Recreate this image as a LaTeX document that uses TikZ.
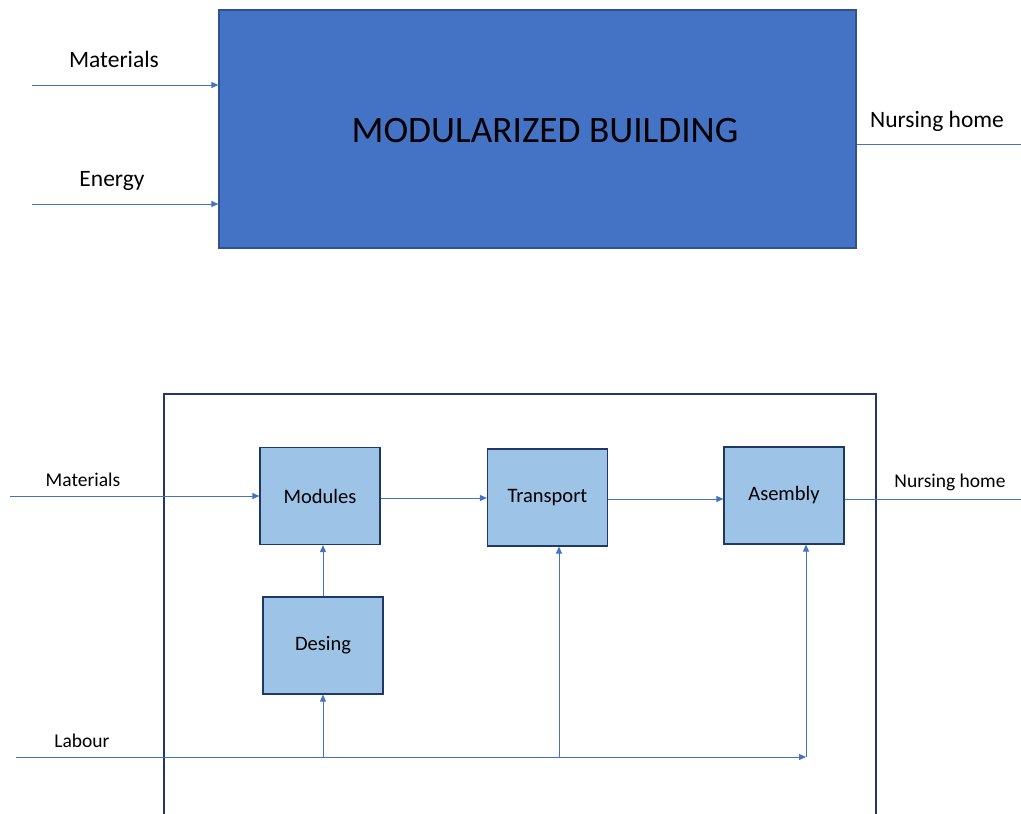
\documentclass[tikz,border=0pt]{standalone}
\usepackage{fontspec}
\setmainfont{Carlito}
\usetikzlibrary{arrows.meta}
\definecolor{accent}{HTML}{4472C4}
\definecolor{navy}{HTML}{2F528F}
\definecolor{darknavy}{HTML}{1F3864}
\definecolor{lightblue}{HTML}{9DC3E6}
\begin{document}
\begin{tikzpicture}[x=1pt,y=-1pt,
  flow/.style={draw=accent,line width=0.9pt,-{Triangle[length=7pt,width=6pt]}},
  plain/.style={draw=accent,line width=0.9pt},
  stage/.style={draw=darknavy,line width=1.2pt,fill=lightblue,minimum width=120pt,minimum height=97pt,inner sep=0pt,font=\fontsize{20.5}{22}\selectfont},
  biglabel/.style={font=\fontsize{23.5}{26}\selectfont,inner sep=0pt},
  smalllabel/.style={font=\fontsize{19.5}{22}\selectfont,inner sep=0pt}]
\useasboundingbox (0,0) rectangle (1021,814);

% --- overview: the building as one black box ---
\node[draw=navy,line width=1.2pt,fill=accent,minimum width=637pt,minimum height=238pt,inner sep=0pt] (bldg) at (537.5,129) {};
\node[font=\fontsize{37.3}{40}\selectfont,inner sep=0pt] (bldgTxt) at (545,131) {MODULARIZED BUILDING};
\coordinate (matIn) at (32,85);
\coordinate (enIn) at (32,204);
\coordinate (nhOut) at (1021,144);
\draw[flow] (matIn) -- (bldg.west |- matIn);
\draw[flow] (enIn) -- (bldg.west |- enIn);
\draw[plain] (bldg.east |- nhOut) -- (nhOut);
\node[biglabel] (matLbl) at (114,59) {Materials};
\node[biglabel] (enLbl) at (112,181) {Energy};
\node[biglabel] (nhLbl) at (937,121) {Nursing home};

% --- detailed process ---
\draw[darknavy,line width=1.2pt] (164,814) -- (164,394) -- (876,394) -- (876,814);
\node[stage] (modules) at (320,496) {Modules};
\node[stage] (transport) at (547.5,497.5) {Transport};
\node[stage] (asembly) at (784,495.5) {Asembly};
\node[stage] (desing) at (323,645.5) {Desing};

\coordinate (mat2In) at (10,496);
\coordinate (nh2Out) at (1021,499);
\coordinate (labIn) at (16,757);
\coordinate (labEnd) at (806,757);
\coordinate (labD) at (323,757);
\coordinate (labT) at (559,757);

\draw[flow] (mat2In) -- (modules.west |- mat2In);
\draw[flow] (modules.east |- 0,498) -- (transport.west |- 0,498);
\draw[flow] (transport.east |- 0,499) -- (asembly.west |- 0,499);
\draw[plain] (asembly.east |- nh2Out) -- (nh2Out);
\draw[flow] (desing.north -| labD) -- (modules.south -| labD);
\draw[flow] (labIn) -- (labEnd);
\draw[flow] (labEnd) -- (asembly.south -| labEnd);
\draw[flow] (labD) -- (desing.south -| labD);
\draw[flow] (labT) -- (transport.south -| labT);

\node[smalllabel] (mat2Lbl) at (83,480) {Materials};
\node[smalllabel] (nh2Lbl) at (950,482) {Nursing home};
\node[smalllabel] (labLbl) at (82,741) {Labour};
\end{tikzpicture}
\end{document}
